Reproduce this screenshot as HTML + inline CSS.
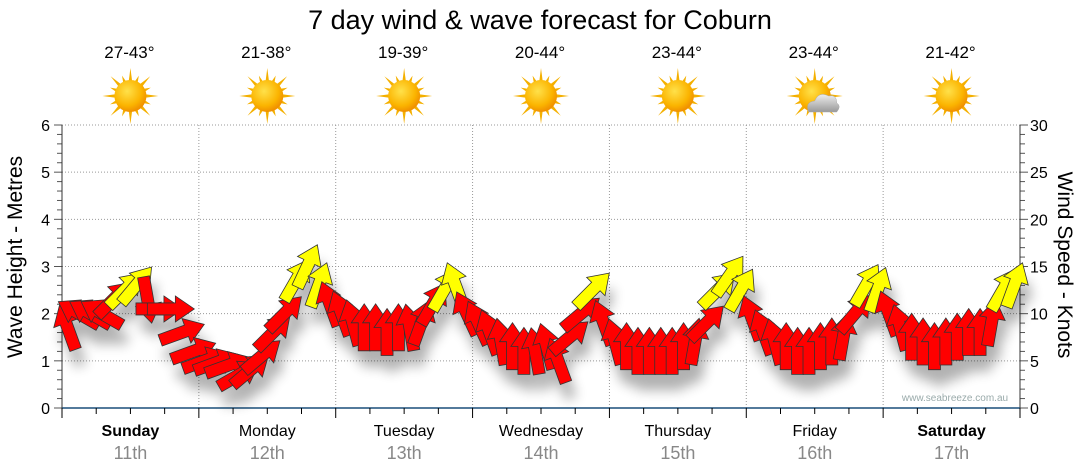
<!DOCTYPE html>
<html><head><meta charset="utf-8"><style>
body{margin:0;background:#fff;}
svg{display:block;font-family:"Liberation Sans",sans-serif;}
</style></head><body>
<svg id="chart" width="1080" height="475" viewBox="0 0 1080 475">
<defs>
<radialGradient id="sunG" cx="40%" cy="35%" r="65%"><stop offset="0" stop-color="#ffe14a"/><stop offset="0.7" stop-color="#fbb400"/><stop offset="1" stop-color="#f09000"/></radialGradient>
<linearGradient id="cloudG" x1="0" y1="0" x2="0" y2="1"><stop offset="0" stop-color="#eee"/><stop offset="1" stop-color="#999"/></linearGradient>
<filter id="shadow" x="-50%" y="-50%" width="200%" height="200%"><feGaussianBlur stdDeviation="6"/></filter>
</defs>
<text x="540" y="29" text-anchor="middle" font-size="27" fill="#000">7 day wind &amp; wave forecast for Coburn</text>
<g id="grid"></g>
<g id="icons"></g>
<g id="axes"></g>
<g id="shadows" filter="url(#shadow)" opacity="0.3"></g>
<g id="arrows"></g>
<text x="955" y="401" text-anchor="middle" font-size="10" fill="#9aa">www.seabreeze.com.au</text>
<text transform="translate(22,257) rotate(-90)" text-anchor="middle" font-size="21" fill="#000">Wave Height - Metres</text>
<text transform="translate(1058,265) rotate(90)" text-anchor="middle" font-size="21" fill="#000">Wind Speed - Knots</text>
</svg>
<script>
const days=["Sunday","Monday","Tuesday","Wednesday","Thursday","Friday","Saturday"];
const dates=["11th","12th","13th","14th","15th","16th","17th"];
const temps=["27-43°","21-38°","19-39°","20-44°","23-44°","23-44°","21-42°"];
const cloudy=[false,false,false,false,false,true,false];
const waveTicks=[0,1,2,3,4,5,6];
const windTicks=[0,5,10,15,20,25,30];
const windSpeed=[
8.5,10,10,10,11.5,12.5,13,11.5,10.5,10.5,8,6,
5,4.8,4.5,3.5,4,5.5,8,10,13.5,15,13,11,
10,9,8.5,8.5,8,8.5,8.5,9,11,12.5,13,10,
9,8,7,6.5,6,6,6.5,5,7.5,10,12.5,9,
7,6.5,6,6,6,6,6.5,7,9,12.5,14,12.5,
9.5,8,7,6.5,6,6,6.5,7,7.5,10,13,12.5,
10,8.5,7.5,7,6.5,7,7.5,8,8,9,12.5,13];
const windDir=[
-20,-60,-60,-60,45,45,40,170,90,90,70,70,
70,70,70,60,50,50,45,45,30,25,20,-20,
-20,-15,0,0,0,0,-10,20,30,30,-20,-25,
-25,-20,-10,0,0,-10,-15,-20,50,50,45,-20,
-15,0,0,0,0,0,0,10,45,45,35,30,
-20,-20,-15,0,0,0,0,0,10,40,30,20,
-20,-15,0,0,0,0,0,0,0,10,30,20];
const NS="http://www.w3.org/2000/svg";
const X0=62,X1=1020,Y0=408,Y1=125;
const dayW=(X1-X0)/7;
const xT=t=>X0+t*dayW;
const yW=m=>Y0-(m/6)*(Y0-Y1);
const yK=k=>Y0-(k/30)*(Y0-Y1);
function mk(tag,attrs,parent){const e=document.createElementNS(NS,tag);for(const k in attrs)e.setAttribute(k,attrs[k]);parent.appendChild(e);return e;}
const grid=document.getElementById('grid'),axes=document.getElementById('axes'),icons=document.getElementById('icons');
waveTicks.forEach(v=>{
 if(v>0){const l=mk('line',{x1:X0,x2:X1,y1:yW(v),y2:yW(v),stroke:'#999','stroke-dasharray':'1,2'},grid);
 
 }
 const t=mk('text',{x:50,y:yW(v)+6,'text-anchor':'end','font-size':16,fill:'#000'},axes);t.textContent=v;
 
 
});
windTicks.forEach(v=>{
 const t=mk('text',{x:1030,y:yK(v)+6,'font-size':16,fill:'#000'},axes);t.textContent=v;
 
 
});
for(let i=0;i<=30;i++){const y=yW(i/5);mk('line',{x1:X0-(i%5==0?8:5),x2:X0,y1:y,y2:y,stroke:'#555'},axes);mk('line',{x1:X1,x2:X1+(i%5==0?8:5),y1:y,y2:y,stroke:'#555'},axes);}
mk('line',{x1:X0,x2:X0,y1:Y1,y2:Y0,stroke:'#333'},axes);
mk('line',{x1:X1,x2:X1,y1:Y1,y2:Y0,stroke:'#333'},axes);
mk('line',{x1:X0,x2:X1,y1:Y0,y2:Y0,stroke:'#1a4f7a','stroke-width':1.5},axes);
for(let i=0;i<=28;i++){const x=xT(i/4);mk('line',{x1:x,x2:x,y1:Y0,y2:Y0+(i%4==0?10:6),stroke:'#000'},axes);}
days.forEach((d,i)=>{
 if(i>0){const l=mk('line',{x1:xT(i),x2:xT(i),y1:Y1,y2:Y0,stroke:'#999','stroke-dasharray':'1,2'},grid);
 
 }
 const cx=xT(i+0.5);
 const bold=(i==0||i==6);
 const t=mk('text',{x:cx,y:436,'text-anchor':'middle','font-size':16,fill:'#000','font-weight':bold?'bold':'normal'},axes);t.textContent=d;
 
 
 const t2=mk('text',{x:cx,y:459,'text-anchor':'middle','font-size':18,fill:'#888'},axes);t2.textContent=dates[i];
 
 
 const t3=mk('text',{x:cx-1,y:58,'text-anchor':'middle','font-size':17,fill:'#000'},icons);t3.textContent=temps[i];
 
 
 const g=mk('g',{transform:`translate(${cx},96)`},icons);
 
 
 for(let r=0;r<16;r++){const a=r*Math.PI/8;const L=(r%2==0)?28:22;
  mk('polygon',{points:`${Math.cos(a)*L},${Math.sin(a)*L} ${Math.cos(a+0.13)*14},${Math.sin(a+0.13)*14} ${Math.cos(a-0.13)*14},${Math.sin(a-0.13)*14}`,fill:'#f4b000'},g);}
 mk('circle',{cx:0,cy:0,r:16,fill:'url(#sunG)'},g);
 if(cloudy[i]){mk('path',{d:'M-6,16 Q-10,6 0,5 Q4,-5 14,0 Q22,-2 22,7 Q27,10 22,16 Z',fill:'url(#cloudG)',stroke:'#aaa','stroke-width':0.5},g);}
});
const shadows=document.getElementById('shadows'),arrows=document.getElementById('arrows');
const n=windSpeed.length;
const shape="0,-24 13,-5 6,-5 6,23 -6,23 -6,-5 -13,-5";
for(let i=0;i<n;i++){
 const x=xT((i+0.5)/12), y=yK(windSpeed[i]);
 mk('polygon',{points:shape,fill:'#000',transform:`translate(${x+5},${y+16}) rotate(${windDir[i]})`},shadows);
}
for(let i=0;i<n;i++){
 const x=xT((i+0.5)/12), y=yK(windSpeed[i]);
 const p=mk('polygon',{points:shape,fill:windSpeed[i]>=12?'#ffff00':'#ff0000',stroke:'#333','stroke-width':0.8,transform:`translate(${x},${y}) rotate(${windDir[i]})`},arrows);
 
 
}
</script>
</body></html>
